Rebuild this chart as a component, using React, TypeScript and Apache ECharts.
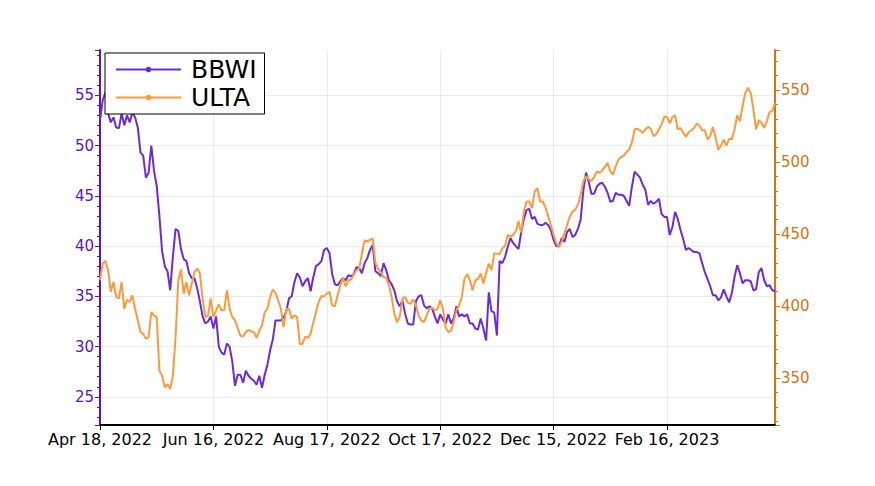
import React, { useEffect, useRef } from "react";
import * as echarts from "echarts";

// Trading calendar (categories)
const START_DATE = "2022-04-18";
const N_DAYS = 251;
const HOLIDAYS = [
  "2022-05-30", "2022-06-20", "2022-07-04", "2022-09-05", "2022-11-24",
  "2022-12-26", "2023-01-02", "2023-01-16", "2023-02-20", "2023-04-07",
];
const MONTHS = ["Jan", "Feb", "Mar", "Apr", "May", "Jun", "Jul", "Aug", "Sep", "Oct", "Nov", "Dec"];

function buildDates(): string[] {
  const out: string[] = [];
  const d = new Date(START_DATE + "T00:00:00Z");
  while (out.length < N_DAYS) {
    const iso = d.toISOString().slice(0, 10);
    const wd = d.getUTCDay();
    if (wd !== 0 && wd !== 6 && !HOLIDAYS.includes(iso)) {
      out.push(`${MONTHS[d.getUTCMonth()]} ${d.getUTCDate()}, ${d.getUTCFullYear()}`);
    }
    d.setUTCDate(d.getUTCDate() + 1);
  }
  return out;
}
const DATES = buildDates();

const BBWI = [
  52.5, 54.5, 55.3, 53.2, 52.3, 52.8, 51.8, 51.7, 53.2, 52, 53, 52.3, 53.3, 52.8, 51.8, 49.3, 49, 46.8, 47.3, 50,
  47.5, 46, 43, 39.5, 38, 37.5, 35.6, 39, 41.7, 41.5, 39.7, 38.7, 38.5, 37.3, 36.8, 36.8, 35.8, 34.5, 33, 32.3,
  32.5, 33, 31.8, 33, 30, 29.4, 29.2, 30.3, 30, 28.5, 26.1, 27.2, 27.2, 26.4, 27.6, 27.1, 26.8, 26.6, 26.2, 27.1,
  25.9, 27.2, 28.2, 29.6, 30.7, 32.6, 32.6, 32.6, 32.9, 33.5, 34.8, 35, 36.4, 37.3, 36.9, 36, 36.5, 36.8, 35.5, 36.9,
  38, 38.2, 38.5, 39.6, 39.8, 39.3, 37.2, 36.2, 36.1, 36.5, 36.8, 36.6, 37.1, 37, 37.2, 37.9, 37.8, 37.3, 38.3, 38.8,
  39.6, 40.1, 37.5, 37.3, 37, 38.3, 37.6, 36.6, 36.2, 35.6, 34.5, 34, 34.6, 33.3, 32.3, 32.2, 32.2, 34.5, 35, 35.1,
  34.1, 33.8, 34, 33.8, 33, 32.3, 33.2, 32.7, 32.3, 33.2, 32.3, 32.8, 34, 33, 33.2, 33, 33.2, 32.3, 32.3, 31.8,
  31.7, 32.8, 31.8, 30.6, 35.4, 33.5, 33.4, 31.1, 38.5, 38.3, 38.9, 39.9, 40.8, 40.3, 40, 39.7, 41.4, 42.7, 43.6, 43.7,
  42.7, 42.9, 42.2, 42.1, 42.1, 42.3, 42.1, 41.6, 40.6, 40, 40, 40.8, 40.4, 41.4, 41.7, 40.9, 41.1, 41.7, 42.6, 45.5,
  47.3, 46.4, 45.2, 45.2, 45.9, 46.2, 46.3, 45.9, 45.3, 44.4, 44.5, 45.3, 45.1, 45.1, 45, 44.5, 44, 45.9, 47.4, 47.1,
  46.8, 46.1, 45.6, 44.1, 44.5, 44.2, 44.4, 44.7, 43.2, 42.9, 42.9, 41.1, 41.9, 43.4, 42.7, 41.6, 40.7, 39.6, 39.8, 39.6,
  39.4, 39.4, 39.3, 38.3, 37.4, 36.7, 36, 35.1, 35.1, 34.6, 34.9, 35.7, 35, 34.4, 35.3, 36.9, 38.1, 37.3, 36.3, 36.6,
  36.6, 36.5, 35.6, 35.7, 37.4, 37.8, 36.6, 36, 36.1, 35.6, 35.5,
];

const ULTA = [
  417.9, 429.5, 431.4, 424.9, 409.8, 416.7, 406.3, 405.1, 416.7, 398.1, 404.4, 402.8, 407.4, 398.1, 390, 381.9, 380.7, 377.2, 378.4, 395.8,
  393.5, 392.3, 355.1, 351.6, 343.5, 345.8, 342.3, 351.6, 378.4, 417.9, 425.3, 408.6, 416.7, 407.4, 415.6, 423.7, 426, 422.6, 405.1, 392.3,
  393.5, 405.1, 392.3, 397, 401.2, 397, 397, 410.9, 398.1, 392.3, 390, 384.7, 379.5, 378.8, 381.9, 383.5, 382.3, 381.9, 377.9, 383,
  386.5, 395.8, 398.1, 406.3, 411.4, 409.1, 404, 398.1, 385.3, 398.1, 398.1, 391.2, 393.5, 392.3, 373.7, 373.7, 378.8, 377.9, 380.7, 388.8,
  395.8, 402.8, 407, 406.7, 408.6, 409.8, 400.5, 399.8, 407.4, 414.4, 419.5, 413.7, 417.9, 418.4, 422.1, 424.9, 426, 436.5, 445.8, 444.7,
  446, 447, 430, 425.6, 423.3, 420.2, 419.5, 414.4, 406.3, 394.7, 388.8, 392.3, 405.1, 406.3, 402.3, 401.6, 404.7, 400.5, 393.5, 390,
  388.8, 393.5, 398.1, 398.8, 397, 398.1, 404, 398.1, 385.3, 381.9, 383, 388.8, 397, 400.5, 406.3, 419.1, 422.1, 417.9, 411, 417.9,
  418.8, 422.6, 415.6, 423, 429.5, 424.9, 436.5, 436.3, 436.1, 440, 441.7, 449.4, 448.2, 449.4, 452, 459, 451, 466, 472.6, 472.6,
  468, 479.6, 481.9, 472.6, 472.6, 468.6, 462.1, 456.3, 449.4, 443.6, 440.8, 444.7, 450.5, 456.3, 462.1, 465.6, 466.8, 470.3, 477.3, 486.6,
  490.1, 488.2, 486.6, 489.6, 493.5, 492.4, 494.2, 496.6, 499.4, 493.5, 491.2, 497, 501.7, 503.5, 504.5, 507, 508.6, 513.8, 522.6, 523.1,
  522.1, 520.3, 522.6, 524.4, 523.1, 517.9, 519.3, 522.6, 526.1, 531.4, 531.4, 526.8, 531.4, 532.3, 522.6, 523.7, 520.3, 517.5, 520.7, 522.1,
  523.7, 526.8, 525.4, 522.1, 522.1, 515.6, 517.9, 524.4, 516.8, 508.6, 511.4, 515.6, 511.4, 516.1, 515.6, 522.6, 532.3, 528.4, 538.9, 548.2,
  551.6, 548.2, 536.5, 522.6, 529.1, 527.2, 523.7, 528.4, 534.7, 535.4, 541.2,
];

const LABEL_EVERY = 42;
const FONT = "DejaVu Sans";
const PURPLE_LINE = "#6c2bd9";
const PURPLE_AXIS = "#5a12c9";
const ORANGE_LINE = "#ff9a3c";
const ORANGE_AXIS = "#d9730d";

export default function App() {
  const ref = useRef<HTMLDivElement>(null);
  useEffect(() => {
    if (!ref.current) return;
    const chart = echarts.init(ref.current, undefined, { renderer: "svg" });
    chart.setOption({
      animation: false,
      backgroundColor: "#fff",
      textStyle: { fontFamily: FONT },
      grid: { left: 100, right: 100, top: 50, bottom: 61 },
      legend: {
        left: 105,
        top: 53,
        orient: "vertical",
        padding: [4, 8, 4, 10],
        itemGap: 3,
        itemWidth: 65,
        itemHeight: 7,
        borderColor: "#000",
        borderWidth: 1,
        borderRadius: 0,
        backgroundColor: "#fff",
        textStyle: { fontSize: 25, color: "#000", fontFamily: FONT, padding: [0, 0, 0, 5] },
        data: ["BBWI", "ULTA"],
      },
      xAxis: {
        type: "category",
        data: DATES,
        boundaryGap: false,
        axisLine: { show: true, lineStyle: { color: "#000", width: 2 } },
        axisTick: { show: true, interval: LABEL_EVERY - 1, length: 5, lineStyle: { color: "#000", width: 1 } },
        axisLabel: { interval: LABEL_EVERY - 1, fontSize: 16, color: "#000", fontFamily: FONT, margin: 6 },
        splitLine: { show: true, interval: LABEL_EVERY - 1, lineStyle: { color: "#ebebeb", width: 1 } },
      },
      yAxis: [
        {
          type: "value",
          position: "left",
          min: 22.2,
          max: 59.5,
          splitNumber: 7,
          minInterval: 5,
          maxInterval: 5,
          axisLine: { show: true, lineStyle: { color: PURPLE_AXIS, width: 2 } },
          axisTick: { show: true, length: 5, lineStyle: { color: PURPLE_AXIS } },
          minorTick: { show: true, splitNumber: 5, length: 3, lineStyle: { color: PURPLE_AXIS } },
          axisLabel: { color: PURPLE_AXIS, fontSize: 15, fontFamily: FONT, margin: 6, showMinLabel: false, showMaxLabel: false },
          splitLine: { show: true, showMinLine: false, showMaxLine: false, lineStyle: { color: "#ebebeb", width: 1 } },
        },
        {
          type: "value",
          position: "right",
          min: 317.4,
          max: 577.8,
          splitNumber: 5,
          minInterval: 50,
          maxInterval: 50,
          axisLine: { show: true, lineStyle: { color: ORANGE_AXIS, width: 2 } },
          axisTick: { show: true, length: 5, lineStyle: { color: ORANGE_AXIS } },
          minorTick: { show: true, splitNumber: 5, length: 3, lineStyle: { color: ORANGE_AXIS } },
          axisLabel: { color: ORANGE_AXIS, fontSize: 15, fontFamily: FONT, margin: 6, showMinLabel: false, showMaxLabel: false },
          splitLine: { show: false },
        },
      ],
      series: [
        {
          name: "BBWI",
          type: "line",
          data: BBWI,
          yAxisIndex: 0,
          symbol: "circle",
          showSymbol: false,
          color: PURPLE_LINE,
          lineStyle: { color: PURPLE_LINE, width: 2 },
        },
        {
          name: "ULTA",
          type: "line",
          data: ULTA,
          yAxisIndex: 1,
          symbol: "circle",
          showSymbol: false,
          color: ORANGE_LINE,
          lineStyle: { color: ORANGE_LINE, width: 2 },
        },
      ],
    });
    return () => chart.dispose();
  }, []);
  return (
    <div
      ref={ref}
      style={{ position: "absolute", left: 0, top: 0, width: 875, height: 486 }}
    />
  );
}
